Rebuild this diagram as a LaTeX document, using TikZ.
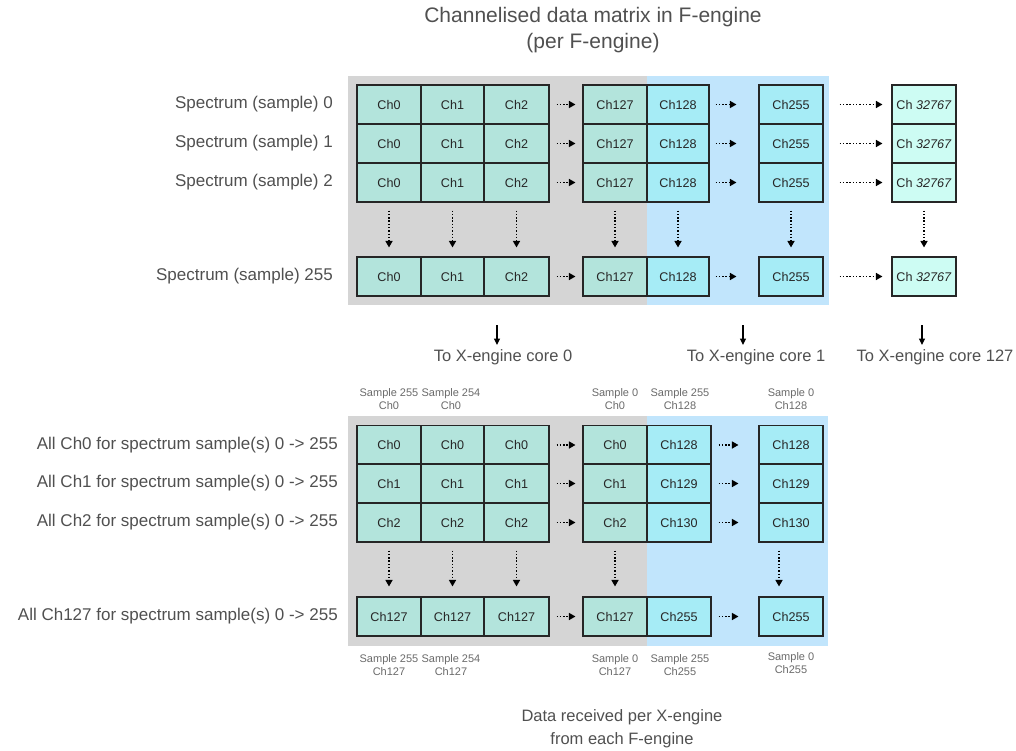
\documentclass[tikz,border=0pt]{standalone}
\usepackage{fontspec}
\setmainfont{Liberation Sans}
\usetikzlibrary{arrows.meta}

\definecolor{cellgreen}{HTML}{B3E4DC}
\definecolor{cellblue}{HTML}{A6ECF6}
\definecolor{cellpale}{HTML}{CDFCF3}
\definecolor{bggray}{HTML}{D5D5D5}
\definecolor{bgblue}{HTML}{C1E5FC}
\definecolor{labelgray}{HTML}{505050}
\definecolor{notegray}{HTML}{6A6A6A}

\tikzset{
  cell/.style={draw=black!85, line width=1.1pt, minimum height=39pt, minimum width=64pt,
    inner sep=0pt, font=\fontsize{12.6}{14}\selectfont, text=black!85},
  cg/.style={cell, fill=cellgreen},
  cb/.style={cell, fill=cellblue},
  cp/.style={cell, fill=cellpale},
  rowlab/.style={anchor=east, inner sep=0pt, text=labelgray, font=\fontsize{17}{20}\selectfont},
  notelab/.style={align=center, inner sep=0pt, text=notegray, font=\fontsize{11}{12.5}\selectfont},
  textlab/.style={align=center, inner sep=0pt, text=labelgray, font=\fontsize{16.5}{23}\selectfont},
  dotarrow/.style={line width=1.4pt, dash pattern=on 1.4pt off 1.9pt, -{Triangle[length=6.5pt,width=7pt]}},
  downarrow/.style={line width=1.2pt, -{Triangle[length=6.5pt,width=6pt]}}
}

\begin{document}
\begin{tikzpicture}[x=1pt,y=-1pt]
\useasboundingbox (0,0) rectangle (1016,751);

% title
\node[textlab, font=\fontsize{21}{26}\selectfont] (title) at (593,30) {Channelised data matrix in F-engine\\(per F-engine)};

% ---------- channelised matrix ----------
\fill[bggray] (348,76) rectangle (647,305);
\fill[bgblue] (647,76) rectangle (829,305);

\foreach \r/\y/\lab in {0/104.5/0, 1/143.5/1, 2/182.5/2, 3/276.5/255} {
  \node[rowlab] (tl\r) at (333,\y) {Spectrum (sample) \lab};
  \node[cg, minimum width=64pt] (t\r0) at (389,\y) {Ch0};
  \node[cg, minimum width=63pt] (t\r1) at (452.5,\y) {Ch1};
  \node[cg, minimum width=65pt] (t\r2) at (516.5,\y) {Ch2};
  \node[cg] (t\r3) at (615,\y) {Ch127};
  \node[cb, minimum width=62pt] (t\r4) at (678,\y) {Ch128};
  \node[cb] (t\r5) at (791,\y) {Ch255};
  \node[cp] (t\r6) at (924,\y) {Ch \textit{32767}};
  \draw[dotarrow] ([xshift=7pt]t\r2.east) -- ([xshift=-7pt]t\r3.west);
  \draw[dotarrow] ([xshift=6pt]t\r4.east) -- ([xshift=-22pt]t\r5.west);
  \draw[dotarrow] ([xshift=16pt]t\r6.west -| t\r5.east) -- ([xshift=-9pt]t\r6.west);
}
\foreach \c in {0,...,6} {
  \draw[dotarrow] ([yshift=-8pt]t2\c.south) -- ([yshift=9pt]t3\c.north);
}

% outputs to the X-engine cores
\coordinate (a0) at (497,325); \coordinate (a0e) at (497,345);
\coordinate (a1) at (743,325); \coordinate (a1e) at (743,345);
\coordinate (a2) at (922,325); \coordinate (a2e) at (922,345);
\draw[downarrow] (a0) -- (a0e);
\draw[downarrow] (a1) -- (a1e);
\draw[downarrow] (a2) -- (a2e);
\node[textlab] (x0) at (503,357) {To X-engine core 0};
\node[textlab] (x1) at (756,357) {To X-engine core 1};
\node[textlab] (x2) at (935,357) {To X-engine core 127};

% ---------- data received per X-engine ----------
\fill[bggray] (348,416) rectangle (647,646);
\fill[bgblue] (647,416) rectangle (828,646);

\foreach \r/\y/\a/\b in {0/445/Ch0/Ch128, 1/483.5/Ch1/Ch129, 2/522.5/Ch2/Ch130, 3/616.5/Ch127/Ch255} {
  \node[rowlab] (bl\r) at (338,\y) {All \a{} for spectrum sample(s) 0 -> 255};
  \node[cg, minimum width=64pt] (b\r0) at (389,\y) {\a};
  \node[cg, minimum width=63pt] (b\r1) at (452.5,\y) {\a};
  \node[cg, minimum width=65pt] (b\r2) at (516.5,\y) {\a};
  \node[cg] (b\r3) at (615,\y) {\a};
  \node[cb] (b\r4) at (679,\y) {\b};
  \node[cb] (b\r5) at (791,\y) {\b};
  \draw[dotarrow] ([xshift=7pt]b\r2.east) -- ([xshift=-7pt]b\r3.west);
  \draw[dotarrow] ([xshift=7pt]b\r4.east) -- ([xshift=-20pt]b\r5.west);
}
\foreach \c in {0,...,3} {
  \draw[dotarrow] ([yshift=-8pt]b2\c.south) -- ([yshift=10pt]b3\c.north);
}
\draw[dotarrow] ([xshift=-12pt,yshift=-8pt]b25.south) -- ([xshift=-12pt,yshift=10pt]b35.north);

% sample annotations
\node[notelab] (s0) at (389,399) {Sample 255\\Ch0};
\node[notelab] (s1) at (451,399) {Sample 254\\Ch0};
\node[notelab] (s2) at (615,399) {Sample 0\\Ch0};
\node[notelab] (s3) at (680,399) {Sample 255\\Ch128};
\node[notelab] (s4) at (791,399) {Sample 0\\Ch128};
\node[notelab] (e0) at (389,665) {Sample 255\\Ch127};
\node[notelab] (e1) at (451,665) {Sample 254\\Ch127};
\node[notelab] (e2) at (615,665) {Sample 0\\Ch127};
\node[notelab] (e3) at (680,665) {Sample 255\\Ch255};
\node[notelab] (e4) at (791,663) {Sample 0\\Ch255};

% caption
\node[textlab] (cap) at (622,729) {Data received per X-engine\\from each F-engine};
\end{tikzpicture}
\end{document}
